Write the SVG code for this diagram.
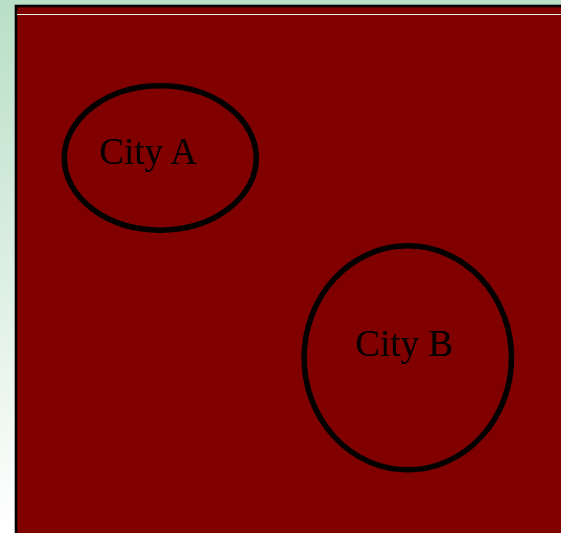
<svg xmlns="http://www.w3.org/2000/svg" width="561" height="533" viewBox="0 0 561 533">
  <defs>
    <linearGradient id="bg" x1="0" y1="0" x2="0" y2="1">
      <stop offset="0" stop-color="#b9dfc6"/>
      <stop offset="1" stop-color="#ffffff"/>
    </linearGradient>
  </defs>
  <style>
    .city { fill: none; stroke: #000000; stroke-width: 5.5; }
    .label { font-family: "Liberation Serif", "Times New Roman", serif; font-size: 37px; fill: #000000; }
  </style>
  <rect x="0" y="0" width="561" height="533" fill="url(#bg)"/>
  <rect id="map" x="16" y="6" width="560" height="540" fill="#800000" stroke="#000000" stroke-width="2.6"/>
  <line x1="17" y1="14.5" x2="561" y2="14.5" stroke="#e2f2e6" stroke-width="1"/>
  <g id="connectors"/>
  <g id="city-a">
    <ellipse class="city" cx="160.3" cy="158" rx="96" ry="72.2"/>
    <text class="label" x="99" y="164">City A</text>
  </g>
  <g id="city-b">
    <ellipse class="city" cx="407.8" cy="357.8" rx="103.7" ry="112"/>
    <text class="label" x="355" y="356">City B</text>
  </g>
</svg>
